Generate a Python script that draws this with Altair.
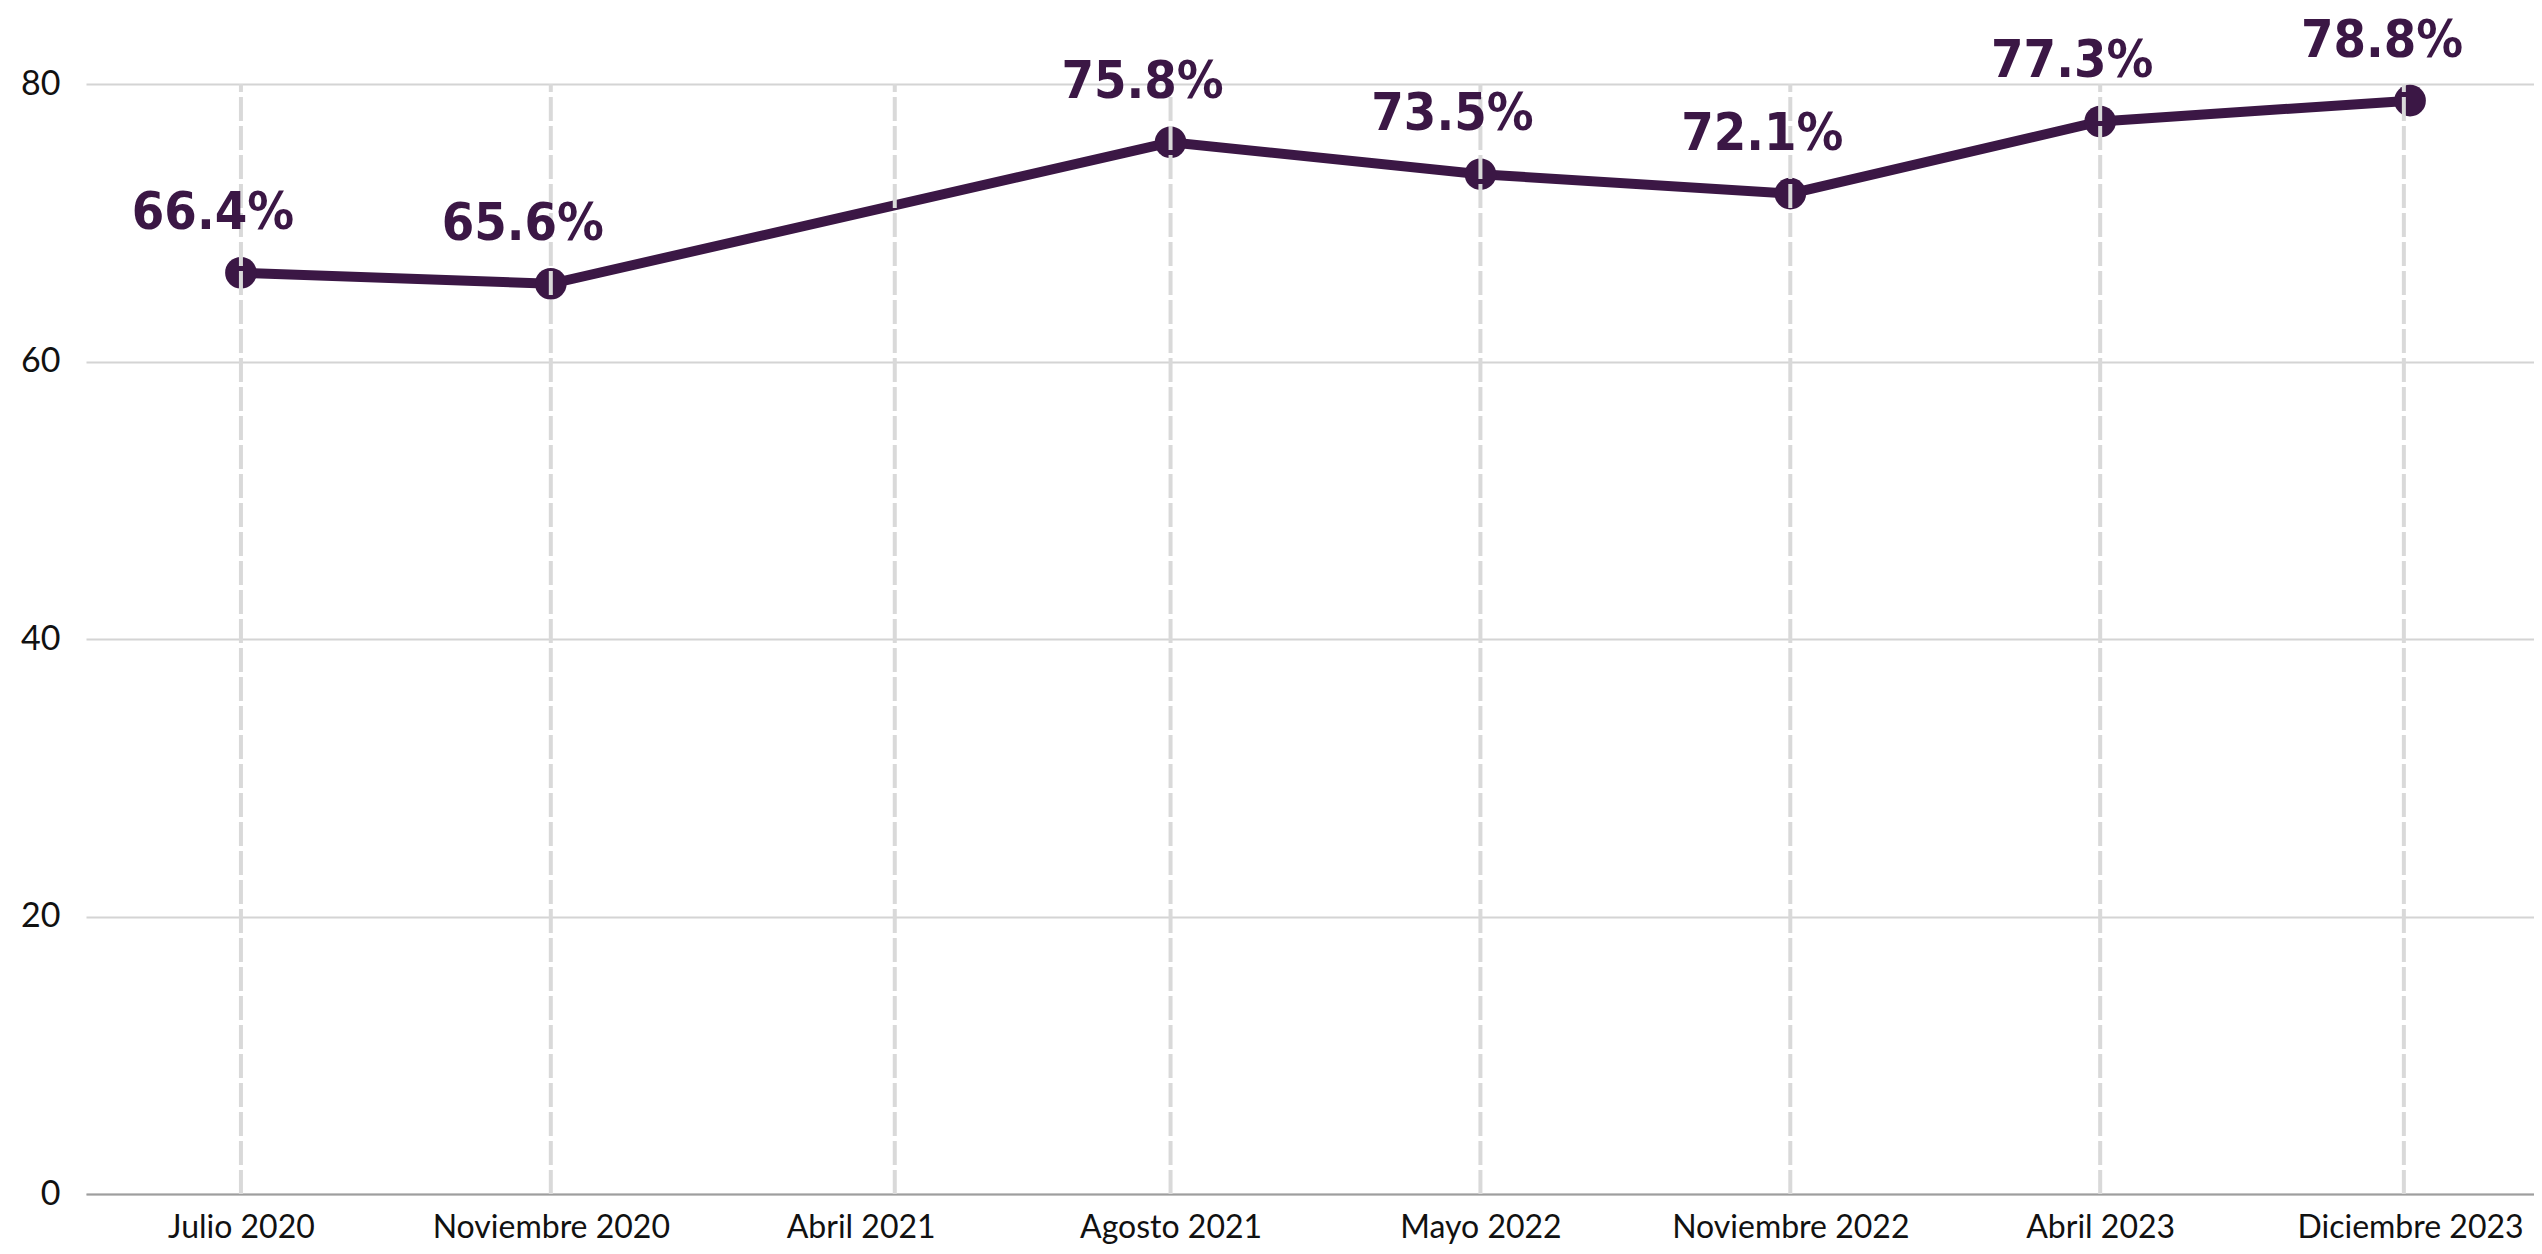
import json
import altair as alt
import pandas as pd

# ---- data ----
periods = ["Julio 2020", "Noviembre 2020", "Abril 2021", "Agosto 2021",
           "Mayo 2022", "Noviembre 2022", "Abril 2023", "Diciembre 2023"]
values = [66.4, 65.6, None, 75.8, 73.5, 72.1, 77.3, 78.8]
# dashed vertical guides (in category-index units, as seen in the picture)
guide_pos = [0, 1, 2.11, 3, 4, 5, 6, 6.98]
y_ticks = [0, 20, 40, 60, 80]

PURPLE = "#3b1745"

pts = pd.DataFrame({
    "idx": list(range(len(periods))),
    "periodo": periods,
    "valor": values,
})
pts = pts[pts["valor"].notna()].copy()
pts["etiqueta"] = pts["valor"].map(lambda v: f"{v:.1f}%")

guides = pd.DataFrame({"gx": guide_pos})

label_expr = json.dumps(periods) + "[datum.value]"

x_scale = alt.Scale(domain=[-0.5, 7.4], nice=False, zero=False)
y_scale = alt.Scale(domain=[0, 80], nice=False)

x_enc = alt.X(
    "idx:Q", scale=x_scale, title=None,
    axis=alt.Axis(values=list(range(len(periods))), labelExpr=label_expr,
                  grid=False, ticks=False, domain=True, domainColor="#9e9e9e",
                  domainWidth=2, labelFont="Lato", labelFontSize=32,
                  labelColor="#111111", labelPadding=18, labelFlush=False,
                  labelOverlap=False, labelLimit=0),
)
y_enc = alt.Y(
    "valor:Q", scale=y_scale, title=None,
    axis=alt.Axis(values=y_ticks, grid=True, gridColor="#d4d4d4", gridWidth=2,
                  ticks=False, domain=False, labelFont="Lato", labelFontSize=34,
                  labelColor="#111111", labelPadding=26),
)

base = alt.Chart(pts)

line = base.mark_line(color=PURPLE, strokeWidth=10).encode(x=x_enc, y=y_enc)
dots = base.mark_circle(color=PURPLE, size=1000, opacity=1).encode(
    x="idx:Q", y="valor:Q")

rules = alt.Chart(guides).mark_rule(
    color="#d9d9d9", strokeWidth=4, strokeDash=[24, 5]
).encode(x="gx:Q", y=alt.datum(0), y2=alt.datum(80))

labels = base.mark_text(
    font="Liberation Sans Narrow, DejaVu Sans Condensed, sans-serif",
    fontWeight="bold", fontSize=52, color=PURPLE,
    align="center", baseline="alphabetic", dy=-44, dx=-28,
).encode(x="idx:Q", y="valor:Q", text="etiqueta:N")

chart = alt.layer(line, dots, rules, labels).properties(
    width=2448, height=1110,
    autosize=alt.AutoSizeParams(type="none"),
    padding={"left": 78, "top": 76, "right": 0, "bottom": 52},
    background="white",
).configure_view(stroke=None)

chart.save("out.html", embed_options={"renderer": "svg", "actions": False})
